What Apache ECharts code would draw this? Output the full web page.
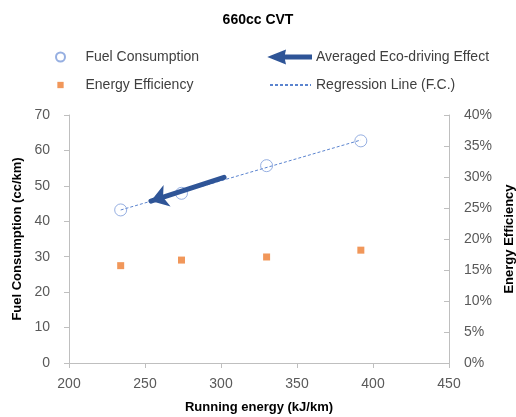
<!DOCTYPE html>
<html>
<head>
<meta charset="utf-8">
<script src="https://cdn.jsdelivr.net/npm/echarts@6/dist/echarts.min.js"></script>
<style>
html,body{margin:0;padding:0;background:#fff;}
#main{width:516px;height:417px;}
</style>
</head>
<body>
<div id="main"></div>
<script>
// ---- data ----
const runningEnergy = [234, 274, 330, 392];          // kJ/km
const fuelConsumption = [43.2, 47.9, 55.7, 62.7];    // cc/km
const energyEfficiency = [0.157, 0.166, 0.171, 0.182];
const arrowFrom = [302.0, 52.4];                     // averaged eco-driving effect (tail)
const arrowTo = [253.9, 45.7];                       // (head)
const xRange = [200, 450, 50];
const yLeftRange = [0, 70, 10];
const yRightRange = [0, 0.4, 0.05];
const seriesNames = ['Fuel Consumption', 'Energy Efficiency', 'Averaged Eco-driving Effect', 'Regression Line (F.C.)'];

// least-squares regression of fuel consumption on running energy
function regression(xs, ys) {
  const n = xs.length;
  const mx = xs.reduce((a, b) => a + b, 0) / n;
  const my = ys.reduce((a, b) => a + b, 0) / n;
  let sxy = 0, sxx = 0;
  for (let i = 0; i < n; i++) { sxy += (xs[i] - mx) * (ys[i] - my); sxx += (xs[i] - mx) ** 2; }
  const b = sxy / sxx, a = my - b * mx;
  const x0 = Math.min(...xs), x1 = Math.max(...xs);
  return [[x0, a + b * x0], [x1, a + b * x1]];
}

const fuelData = runningEnergy.map((x, i) => [x, fuelConsumption[i]]);
const effData = runningEnergy.map((x, i) => [x, energyEfficiency[i]]);
const regData = regression(runningEnergy, fuelConsumption);

const FONT = 'Liberation Sans';
const axisGrey = '#BFBFBF';
const labelGrey = '#595959';

const chart = echarts.init(document.getElementById('main'));
chart.setOption({
  animation: false,
  textStyle: { fontFamily: FONT },
  title: {
    text: '660cc CVT', left: 'center', top: 8,
    textStyle: { fontFamily: FONT, fontSize: 14, fontWeight: 'bold', color: '#000' }
  },
  legend: [
    {
      left: 55, top: 50, padding: 0, orient: 'vertical', itemWidth: 40, itemHeight: 9, itemGap: 14,
      selectedMode: false,
      textStyle: { fontFamily: FONT, fontSize: 14, color: '#404040' },
      data: [
        { name: seriesNames[0], icon: 'circle' },
        { name: seriesNames[1], icon: 'path://M0,0M10,10M1.5,1.5L8.5,1.5L8.5,8.5L1.5,8.5Z' }
      ]
    },
    {
      left: 269, top: 50, padding: 0, orient: 'vertical', itemWidth: 41, itemHeight: 12, itemGap: 14,
      selectedMode: false,
      textStyle: { fontFamily: FONT, fontSize: 14, color: '#404040' },
      data: [
        { name: seriesNames[2], icon: 'path://M0,6L15,0L14,4.5L42,4.5L42,7.5L14,7.5L15,12Z' },
        { name: seriesNames[3], itemStyle: { opacity: 0 } }
      ]
    }
  ],
  grid: { left: 69, right: 67, top: 115, bottom: 54, outerBoundsMode: 'none' },
  xAxis: {
    type: 'value', min: xRange[0], max: xRange[1], interval: xRange[2],
    name: 'Running energy (kJ/km)', nameLocation: 'middle', nameGap: 38,
    nameTextStyle: { fontFamily: FONT, fontSize: 13, fontWeight: 'bold', color: '#000' },
    axisLine: { show: true, lineStyle: { color: axisGrey } },
    axisTick: { show: true, length: 5, lineStyle: { color: axisGrey } },
    axisLabel: { fontSize: 14, color: labelGrey, margin: 14, fontFamily: FONT },
    splitLine: { show: false }
  },
  yAxis: [
    {
      type: 'value', min: yLeftRange[0], max: yLeftRange[1], interval: yLeftRange[2],
      name: 'Fuel Consumption (cc/km)', nameLocation: 'middle', nameGap: 42, nameRotate: 90,
      nameTextStyle: { fontFamily: FONT, fontSize: 13, fontWeight: 'bold', color: '#000' },
      axisLine: { show: true, lineStyle: { color: axisGrey } },
      axisTick: { show: true, length: 5, lineStyle: { color: axisGrey } },
      axisLabel: { fontSize: 14, color: labelGrey, margin: 19, fontFamily: FONT },
      splitLine: { show: false }
    },
    {
      type: 'value', position: 'right', min: yRightRange[0], max: yRightRange[1], interval: yRightRange[2],
      name: 'Energy Efficiency', nameLocation: 'middle', nameGap: 53, nameRotate: 90,
      nameTextStyle: { fontFamily: FONT, fontSize: 13, fontWeight: 'bold', color: '#000' },
      axisLine: { show: true, lineStyle: { color: axisGrey } },
      axisTick: { show: true, inside: true, length: 5, lineStyle: { color: axisGrey } },
      axisLabel: { fontSize: 14, color: labelGrey, margin: 15, fontFamily: FONT,
        formatter: v => Math.round(v * 100) + '%' },
      splitLine: { show: false }
    }
  ],
  series: [
    {
      name: seriesNames[3], type: 'line', data: regData, xAxisIndex: 0, yAxisIndex: 0,
      symbol: 'none', z: 1,
      lineStyle: { color: '#5B84CF', width: 1, type: [3, 2] }
    },
    {
      name: seriesNames[0], type: 'scatter', data: fuelData, xAxisIndex: 0, yAxisIndex: 0,
      symbol: 'circle', symbolSize: 12, z: 2,
      itemStyle: { color: 'rgba(255,255,255,0)', borderColor: '#7C9BD9', borderWidth: 1 }
    },
    {
      name: seriesNames[1], type: 'scatter', data: effData, xAxisIndex: 0, yAxisIndex: 1,
      symbol: 'rect', symbolSize: 7, z: 2,
      itemStyle: { color: '#ED7D31' }
    },
    {
      name: seriesNames[2], type: 'lines', coordinateSystem: 'cartesian2d', xAxisIndex: 0, yAxisIndex: 0,
      z: 3, symbol: ['none', 'arrow'], symbolSize: [0, 17],
      lineStyle: { color: '#2F5597', width: 5, opacity: 1, cap: 'round', curveness: 0 },
      data: [{ coords: [arrowFrom, arrowTo] }]
    }
  ]
});
</script>
</body>
</html>
